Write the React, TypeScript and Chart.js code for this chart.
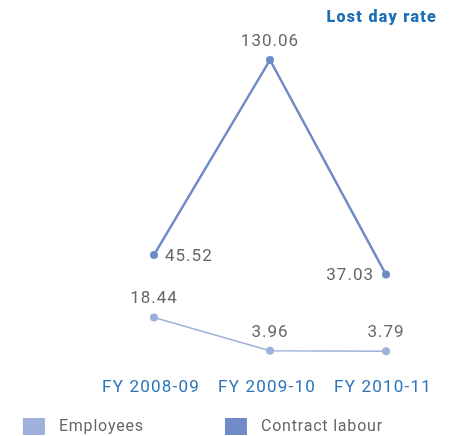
import { useEffect, useRef } from 'react';
import { Chart, registerables } from 'chart.js';

Chart.register(...registerables);

const categories = ['FY 2008-09', 'FY 2009-10', 'FY 2010-11'];
const employees = [18.44, 3.96, 3.79];
const contractLabour = [45.52, 130.06, 37.03];
const seriesNames = ['Employees', 'Contract labour'];
const chartTitle = 'Lost day rate';
const employeeLabelPos = ['top', 'top', 'top'];
const contractLabelPos = ['right', 'top', 'left'];

const EMP_COLOR = '#9fb0dc';
const CON_COLOR = '#6f8cc8';
const FONT = 'Roboto, "DejaVu Sans", sans-serif';

const labelPlugin = {
  id: 'valueLabels',
  afterDatasetsDraw(chart: any) {
    const ctx = chart.ctx;
    ctx.save();
    ctx.font = `17px ${FONT}`;
    ctx.letterSpacing = '1px';
    ctx.fillStyle = '#666666';
    chart.data.datasets.forEach((ds: any, i: number) => {
      const meta = chart.getDatasetMeta(i);
      meta.data.forEach((pt: any, j: number) => {
        const pos = ds.labelPos[j];
        const text = ds.data[j].toFixed(2);
        if (pos === 'top') {
          ctx.textAlign = 'center';
          ctx.textBaseline = 'bottom';
          ctx.fillText(text, pt.x, pt.y - 10);
        } else if (pos === 'right') {
          ctx.textAlign = 'left';
          ctx.textBaseline = 'middle';
          ctx.fillText(text, pt.x + 11, pt.y + 2);
        } else {
          ctx.textAlign = 'right';
          ctx.textBaseline = 'middle';
          ctx.fillText(text, pt.x - 12, pt.y + 1);
        }
      });
    });
    ctx.restore();
  },
};

const decorPlugin = {
  id: 'decor',
  afterDraw(chart: any) {
    const ctx = chart.ctx;
    const w = chart.width;
    ctx.save();
    // title
    ctx.font = `900 16px ${FONT}`;
    ctx.letterSpacing = '1.3px';
    ctx.fillStyle = '#1f6fb8';
    ctx.textAlign = 'right';
    ctx.textBaseline = 'middle';
    ctx.fillText(chartTitle, w - 12, 18);
    // category labels
    const xs = chart.scales.x;
    ctx.font = `17px ${FONT}`;
    ctx.letterSpacing = '1.2px';
    ctx.fillStyle = '#2b74ba';
    ctx.textAlign = 'center';
    categories.forEach((c, i) => {
      ctx.fillText(c, xs.getPixelForValue(i) - 3, 388);
    });
    // legend
    const starts = [w * 0.051, w * 0.501];
    ctx.font = `16px ${FONT}`;
    ctx.letterSpacing = '0.8px';
    chart.data.datasets.forEach((ds: any, i: number) => {
      const x = starts[i];
      ctx.fillStyle = ds.borderColor;
      ctx.fillRect(x, 418, 22, 17);
      ctx.fillStyle = '#666666';
      ctx.textAlign = 'left';
      ctx.textBaseline = 'middle';
      ctx.fillText(ds.label, x + 36, 427);
    });
    ctx.restore();
  },
};

export default function App() {
  const ref = useRef<HTMLCanvasElement>(null);
  useEffect(() => {
    if (!ref.current) return;
    const chart = new Chart(ref.current, {
      type: 'line',
      data: {
        labels: categories,
        datasets: [
          {
            label: seriesNames[0],
            data: employees,
            borderColor: EMP_COLOR,
            backgroundColor: EMP_COLOR,
            borderWidth: 1.5,
            pointRadius: 4,
            pointBorderWidth: 0,
            tension: 0,
            labelPos: employeeLabelPos,
          } as any,
          {
            label: seriesNames[1],
            data: contractLabour,
            borderColor: CON_COLOR,
            backgroundColor: CON_COLOR,
            borderWidth: 2.5,
            pointRadius: 4,
            pointBorderWidth: 0,
            tension: 0,
            labelPos: contractLabelPos,
          } as any,
        ],
      },
      options: {
        responsive: false,
        animation: false,
        layout: { padding: { left: 154, right: 63, top: 37, bottom: 64.5 } },
        plugins: {
          legend: { display: false },
          tooltip: { enabled: false },
          title: { display: false },
        },
        scales: {
          x: {
            display: false,
            offset: false,
          },
          y: {
            display: false,
            min: -5,
            max: 140,
          },
        },
      },
      plugins: [labelPlugin, decorPlugin],
    });
    return () => chart.destroy();
  }, []);
  return (
    <div style={{ position: 'absolute', left: 0, top: 0, width: 449, height: 436, background: '#fff' }}>
      <canvas ref={ref} width={449} height={436} />
    </div>
  );
}
